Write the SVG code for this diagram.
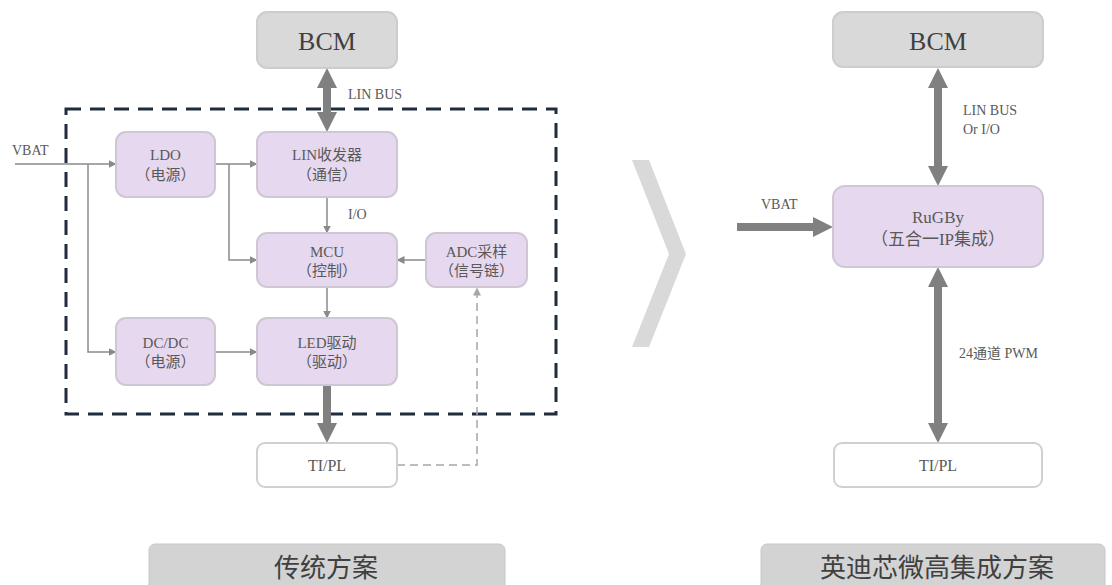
<svg xmlns="http://www.w3.org/2000/svg" width="1112" height="585" viewBox="0 0 1112 585" font-family="'Liberation Serif', 'Noto Sans CJK SC', serif">
<defs>
<style>
.pbox{fill:#e6d8ef;stroke:#cfc7d3;stroke-width:2}
.gbox{fill:#d9d9d9;stroke:#cdcdcd;stroke-width:2}
.wbox{fill:#ffffff;stroke:#d0d0d0;stroke-width:2}
.lbox{fill:#d3d3d3;stroke:#c8c8c8;stroke-width:1}
text{font-family:"Liberation Serif","Noto Sans CJK SC",serif}
.t{fill:#595959;text-anchor:middle}
.tl{fill:#595959}
.big{fill:#404040;text-anchor:middle;font-size:26px}
.thin{stroke:#8a8a8a;stroke-width:1.5;fill:none;marker-end:url(#ah)}
.thick{stroke:#808080;stroke-width:8;fill:none}
.dash{stroke:#a6a6a6;stroke-width:1.5;fill:none;stroke-dasharray:8 5}
</style>
<marker id="ah" markerUnits="userSpaceOnUse" markerWidth="8" markerHeight="8" refX="7.5" refY="4" orient="auto"><path d="M0,0 L8,4 L0,8 z" fill="#8a8a8a"/></marker>
<marker id="ahd" markerUnits="userSpaceOnUse" markerWidth="8" markerHeight="8" refX="7.5" refY="4" orient="auto"><path d="M0,0 L8,4 L0,8 z" fill="#a6a6a6"/></marker>
<marker id="big" markerUnits="userSpaceOnUse" markerWidth="20" markerHeight="20" refX="10" refY="10" orient="auto-start-reverse"><path d="M0,0 L20,10 L0,20 z" fill="#808080"/></marker>
</defs>

<g id="chevron"><polygon points="632,160 649,160 686,254 649,347 632,347 669,254" fill="#d9d9d9"/></g>

<g id="boundary"><rect x="66" y="109" width="490" height="305" fill="none" stroke="#1f2d3d" stroke-width="3" stroke-dasharray="15 9"/></g>

<g id="connectors">
<polyline class="thin" points="15,164 116,164"/>
<polyline class="thin" points="88,164 88,352 116,352"/>
<polyline class="thin" points="215,164 257,164"/>
<polyline class="thin" points="229,164 229,260 257,260"/>
<polyline class="thin" points="327,197 327,233"/>
<polyline class="thin" points="426,260 397,260"/>
<polyline class="thin" points="327,287 327,318"/>
<polyline class="thin" points="215,352 257,352"/>
<polyline class="dash" points="397,465 477,465 477,288" marker-end="url(#ahd)"/>
<line class="thick" x1="327" y1="78" x2="327" y2="122" marker-start="url(#big)" marker-end="url(#big)"/>
<line class="thick" x1="327" y1="385" x2="327" y2="433" marker-end="url(#big)"/>
<line class="thick" x1="938" y1="78" x2="938" y2="176" marker-start="url(#big)" marker-end="url(#big)"/>
<line class="thick" x1="938" y1="277" x2="938" y2="433" marker-start="url(#big)" marker-end="url(#big)"/>
<line class="thick" x1="737" y1="227" x2="823" y2="227" marker-end="url(#big)"/>
<text class="tl" x="348" y="99" font-size="14">LIN BUS</text>
<text class="tl" x="12" y="155" font-size="14">VBAT</text>
<text class="tl" x="348" y="219" font-size="14">I/O</text>
<text class="tl" x="963" y="115" font-size="14">LIN BUS</text>
<text class="tl" x="963" y="134" font-size="14">Or I/O</text>
<text class="tl" x="761" y="209" font-size="14">VBAT</text>
<text class="tl" x="959" y="358" font-size="14">24通道 PWM</text>
</g>

<g id="bcm-left"><rect class="gbox" x="257" y="12" width="140" height="56" rx="10"/><text class="big" x="327" y="50" text-anchor="middle" style="font-family:'Liberation Serif',serif">BCM</text></g>
<g id="ldo"><rect class="pbox" x="116" y="132" width="99" height="65" rx="10"/><text class="t" x="165.5" y="160" font-size="15">LDO</text><text class="t" x="165.5" y="180" font-size="15">（电源）</text></g>
<g id="lin"><rect class="pbox" x="257" y="132" width="140" height="65" rx="10"/><text class="t" x="327" y="160" font-size="15">LIN收发器</text><text class="t" x="327" y="180" font-size="15">（通信）</text></g>
<g id="mcu"><rect class="pbox" x="257" y="233" width="140" height="54" rx="10"/><text class="t" x="327" y="257" font-size="15">MCU</text><text class="t" x="327" y="276" font-size="15">（控制）</text></g>
<g id="adc"><rect class="pbox" x="426" y="233" width="101" height="54" rx="10"/><text class="t" x="476.5" y="257" font-size="15">ADC采样</text><text class="t" x="476.5" y="276" font-size="15">（信号链）</text></g>
<g id="dcdc"><rect class="pbox" x="116" y="318" width="99" height="67" rx="10"/><text class="t" x="165.5" y="348" font-size="15">DC/DC</text><text class="t" x="165.5" y="367" font-size="15">（电源）</text></g>
<g id="led"><rect class="pbox" x="257" y="318" width="140" height="67" rx="10"/><text class="t" x="327" y="348" font-size="15">LED驱动</text><text class="t" x="327" y="367" font-size="15">（驱动）</text></g>
<g id="tipl-left"><rect class="wbox" x="257" y="443" width="140" height="44" rx="8"/><text class="t" x="327" y="471" font-size="16">TI/PL</text></g>
<g id="label-left"><rect class="lbox" x="149" y="544" width="356" height="50" rx="6"/><text class="big" x="326" y="577">传统方案</text></g>

<g id="bcm-right"><rect class="gbox" x="833" y="12" width="210" height="55" rx="10"/><text class="big" x="938" y="50">BCM</text></g>
<g id="rugby"><rect class="pbox" x="833" y="186" width="210" height="81" rx="12"/><text class="t" x="938" y="223" font-size="17">RuGBy</text><text class="t" x="938" y="245" font-size="17">（五合一IP集成）</text></g>
<g id="tipl-right"><rect class="wbox" x="834" y="443" width="208" height="44" rx="8"/><text class="t" x="938" y="471" font-size="16">TI/PL</text></g>
<g id="label-right"><rect class="lbox" x="761" y="544" width="344" height="50" rx="6"/><text class="big" x="937" y="577">英迪芯微高集成方案</text></g>
</svg>
